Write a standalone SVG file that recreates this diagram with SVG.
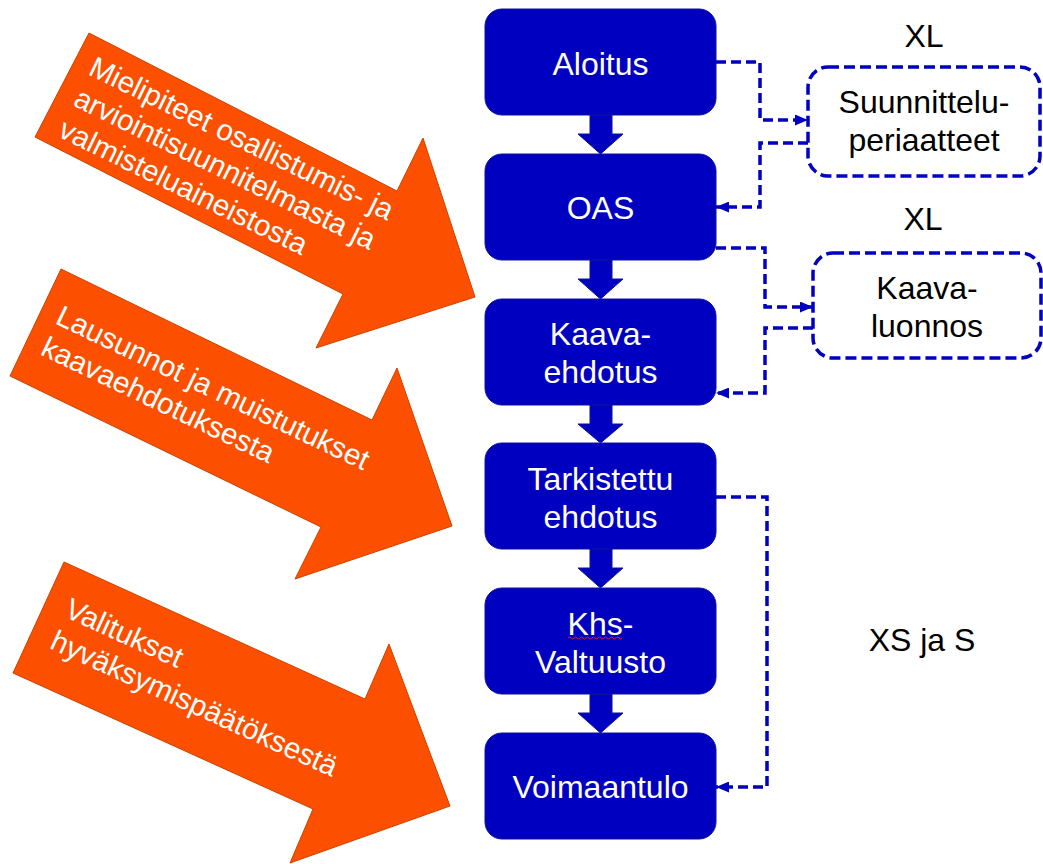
<svg xmlns="http://www.w3.org/2000/svg" width="1043" height="864" viewBox="0 0 1043 864">
<style>
.box{fill:#0000C0;stroke:#10109A;stroke-width:1}
.bt{fill:#fff;font-family:"Liberation Sans",Arial,sans-serif;font-size:32px;text-anchor:middle}
.dt{fill:#000;font-family:"Liberation Sans",Arial,sans-serif;font-size:32px;text-anchor:middle}
.dbox{fill:#fff;stroke:#0000C0;stroke-width:3.5;stroke-dasharray:11,5}
.con{fill:none;stroke:#0000C0;stroke-width:3.5;stroke-dasharray:10,5}
.orange{fill:#FC5000;stroke:#C84400;stroke-width:1}
.ot{fill:#fff;font-family:"Liberation Sans",Arial,sans-serif;font-size:29.5px}
.blk{fill:#0000C0;stroke:#10109A;stroke-width:1}
</style>
<defs>
<marker id="ah" viewBox="0 0 13 11" refX="13" refY="5.5" markerWidth="13" markerHeight="11" markerUnits="userSpaceOnUse" orient="auto">
<path d="M0,0 L13,5.5 L0,11 z" fill="#0000C0"/>
</marker>
</defs>
<rect width="1043" height="864" fill="#fff"/>

<g id="arrow1">
<polygon class="orange" points="89,33 397,191 423,138 475,297 316,348 343,294 35,137"/>
<text class="ot" transform="translate(87,74) rotate(26)"><tspan x="0" y="0">Mielipiteet osallistumis- ja</tspan><tspan x="0" y="34.5">arviointisuunnitelmasta ja</tspan><tspan x="0" y="69">valmisteluaineistosta</tspan></text>
</g>
<g id="arrow2">
<polygon class="orange" points="61,269 372,420 397,368 452,526 295,579 321,527 10,376"/>
<text class="ot" transform="translate(54,323) rotate(25.5)"><tspan x="0" y="0">Lausunnot ja muistutukset</tspan><tspan x="0" y="34.5">kaavaehdotuksesta</tspan></text>
</g>
<g id="arrow3">
<polygon class="orange" points="64,562 365,699 389,644 450,806 290,863 313,809 13,673"/>
<text class="ot" transform="translate(63,616) rotate(24.5)"><tspan x="0" y="0">Valitukset</tspan><tspan x="0" y="35">hyväksymispäätöksestä</tspan></text>
</g>

<g id="flow-arrows">
<polygon class="blk" points="590,115 612,115 612,134 623,134 600.5,154 578,134 590,134"/>
<polygon class="blk" points="590,260 612,260 612,279 623,279 600.5,299 578,279 590,279"/>
<polygon class="blk" points="590,405 612,405 612,424 623,424 600.5,443 578,424 590,424"/>
<polygon class="blk" points="590,549 612,549 612,568 623,568 600.5,588 578,568 590,568"/>
<polygon class="blk" points="590,694 612,694 612,713 623,713 600.5,733 578,713 590,713"/>
</g>

<g id="aloitus"><rect class="box" x="485" y="9" width="231" height="106" rx="17"/><text class="bt" x="600.5" y="75">Aloitus</text></g>
<g id="oas"><rect class="box" x="485" y="154" width="231" height="106" rx="17"/><text class="bt" x="600.5" y="219">OAS</text></g>
<g id="kaava-ehdotus"><rect class="box" x="485" y="299" width="231" height="106" rx="17"/><text class="bt" x="600.5" y="345">Kaava-</text><text class="bt" x="600.5" y="383">ehdotus</text></g>
<g id="tarkistettu"><rect class="box" x="485" y="443" width="231" height="106" rx="17"/><text class="bt" x="600.5" y="490">Tarkistettu</text><text class="bt" x="600.5" y="528">ehdotus</text></g>
<g id="khs"><rect class="box" x="485" y="588" width="231" height="106" rx="17"/><text class="bt" x="600.5" y="635">Khs-</text><text class="bt" x="600.5" y="673">Valtuusto</text>
<path d="M568,638 q1.5,-2 3,0 t3,0 t3,0 t3,0 t3,0 t3,0 t3,0 t3,0 t3,0 t3,0 t3,0 t3,0 t3,0 t3,0 t3,0 t3,0 t3,0 t3,0" fill="none" stroke="#E02020" stroke-width="1"/></g>
<g id="voimaantulo"><rect class="box" x="485" y="733" width="231" height="106" rx="17"/><text class="bt" x="600.5" y="798">Voimaantulo</text></g>

<g id="suunnitteluperiaatteet"><rect class="dbox" x="808" y="67" width="232" height="109" rx="20"/><text class="dt" x="924" y="113">Suunnittelu-</text><text class="dt" x="924" y="151">periaatteet</text></g>
<g id="kaavaluonnos"><rect class="dbox" x="813" y="253" width="228" height="105" rx="20"/><text class="dt" x="927" y="299">Kaava-</text><text class="dt" x="927" y="337">luonnos</text></g>

<g id="labels">
<text class="dt" x="924" y="47">XL</text>
<text class="dt" x="923" y="230">XL</text>
<text class="dt" x="922" y="651">XS ja S</text>
</g>

<g id="connectors">
<path class="con" d="M716,62 H760 V120 H808" marker-end="url(#ah)"/>
<path class="con" d="M808,143 H760 V207 H716" marker-end="url(#ah)"/>
<path class="con" d="M716,248 H765 V307 H813" marker-end="url(#ah)"/>
<path class="con" d="M813,328 H765 V393 H716" marker-end="url(#ah)"/>
<path class="con" d="M716,497 H767 V787 H716" marker-end="url(#ah)"/>
</g>
</svg>
